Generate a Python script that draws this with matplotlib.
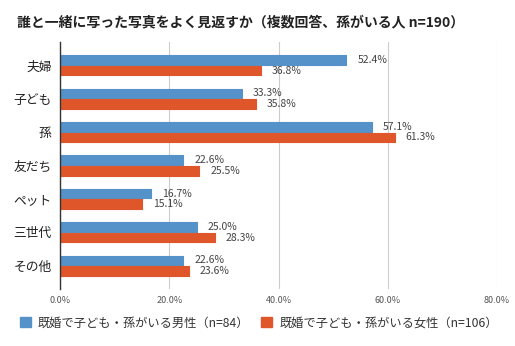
import matplotlib
matplotlib.use("Agg")
import matplotlib.pyplot as plt
import numpy as np
from matplotlib.patches import Patch

plt.rcParams['font.family'] = ['Noto Sans CJK JP', 'DejaVu Sans']

categories = ["夫婦", "子ども", "孫", "友だち", "ペット", "三世代", "その他"]
men = [52.4, 33.3, 57.1, 22.6, 16.7, 25.0, 22.6]
women = [36.8, 35.8, 61.3, 25.5, 15.1, 28.3, 23.6]
series_names = ["既婚で子ども・孫がいる男性（n=84）", "既婚で子ども・孫がいる女性（n=106）"]
xticks = [0, 20, 40, 60, 80]
title = "誰と一緒に写った写真をよく見返すか（複数回答、孫がいる人 n=190）"

blue = "#5592c9"
orange = "#e0562b"

fig = plt.figure(figsize=(5.15, 3.46), dpi=100)
ax = fig.add_axes([60 / 515, 1 - 289 / 346, 437 / 515, 247 / 346])

y = np.arange(len(categories))
h = 0.285
gap = 0.015
bm = ax.barh(y - h / 2 - gap, men, height=h, color=blue, edgecolor=blue,
             linewidth=0.8, joinstyle="round", zorder=3)
bw = ax.barh(y + h / 2 + gap, women, height=h, color=orange, edgecolor=orange,
             linewidth=0.8, joinstyle="round", zorder=3)

for bars, vals in ((bm, men), (bw, women)):
    for b, v in zip(bars, vals):
        ax.annotate(f"{v:.1f}%", (v, b.get_y() + b.get_height() / 2),
                    xytext=(11, 0), textcoords="offset pixels",
                    va="center", ha="left", fontsize=7.5, color="#444444")

ax.set_xlim(0, 80)
ax.set_ylim(len(categories) - 0.5 + 0.2, -0.5 - 0.2)
ax.set_xticks(xticks)
ax.set_xticklabels([f"{t:.1f}%" for t in xticks], fontsize=6.5, color="#555555")
ax.set_yticks(y)
ax.set_yticklabels(categories, fontsize=9.2, color="#222222")
ax.tick_params(axis="both", length=0)
ax.tick_params(axis="x", pad=5)
ax.tick_params(axis="y", pad=6)
ax.grid(axis="x", color="#cccccc", linewidth=0.8, zorder=0)
for s in ("top", "right", "bottom"):
    ax.spines[s].set_visible(False)
ax.spines["left"].set_color("#333333")
ax.spines["left"].set_linewidth(1.0)
ax.spines["left"].set_zorder(4)

fig.text(17 / 515, 1 - 22 / 346, title, fontsize=10, fontweight="bold",
         color="#222222", ha="left", va="center")

handles = [Patch(facecolor=blue, edgecolor=blue), Patch(facecolor=orange, edgecolor=orange)]
fig.legend(handles, series_names, loc="center left", bbox_to_anchor=(20 / 515, 1 - 323 / 346),
           ncol=2, frameon=False, fontsize=8.8, handlelength=0.9, handleheight=0.9,
           handletextpad=0.55, columnspacing=1.0, labelcolor="#333333",
           borderpad=0, borderaxespad=0)

fig.savefig("out.png", dpi=100)
